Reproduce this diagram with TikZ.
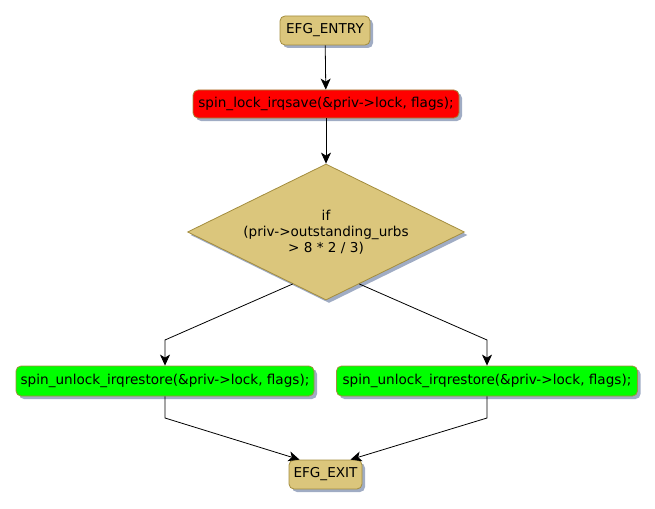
\documentclass[tikz,border=0pt]{standalone}
\usepackage{fontspec}
\setmainfont{DejaVu Sans}
\usetikzlibrary{shapes.geometric,arrows.meta,shadows,calc}
\definecolor{tanfill}{RGB}{219,198,124}
\definecolor{tanline}{RGB}{163,141,62}
\definecolor{shadowblue}{RGB}{160,172,196}
\begin{document}
\begin{tikzpicture}[x=1pt,y=-1pt,
    font=\fontsize{13.6}{16}\selectfont,
    shade box/.style={drop shadow={shadow xshift=3pt,shadow yshift=-3pt,fill=shadowblue,opacity=1}},
    actbox/.style={draw=tanline,line width=0.8pt,rounded corners=5pt,inner sep=0pt,minimum height=29pt,shade box},
    testbox/.style={diamond,draw=tanline,line width=0.8pt,fill=tanfill,inner sep=0pt,shape aspect=2.3,minimum width=277pt,minimum height=136pt,align=center,shade box},
    flow/.style={draw=black,line width=0.8pt,-{Stealth[length=11pt,width=10pt,inset=3pt]}}]

\def\BOXCOLOR{tanfill}
\def\LOCKCOLOR{red}
\def\UNLOCKCOLOR{green}
	\useasboundingbox (0,0) rectangle (655,508);
	\node[actbox,fill=\BOXCOLOR,minimum width=90pt] (entry) at (325,30.5) {EFG\_ENTRY};
	\node[actbox,fill=\LOCKCOLOR,minimum width=266pt,minimum height=28pt] (lock) at (326,104) {spin\_lock\_irqsave(\&priv->lock, flags);};
	\node[testbox] (test) at (326,232) {if\\(priv->outstanding\_urbs\\> 8 * 2 / 3)};
	\node[actbox,fill=\UNLOCKCOLOR,minimum width=298pt,minimum height=30pt] (unlockA) at (165,381) {spin\_unlock\_irqrestore(\&priv->lock, flags);};
	\node[actbox,fill=\UNLOCKCOLOR,minimum width=301pt,minimum height=30pt] (unlockB) at (487,381) {spin\_unlock\_irqrestore(\&priv->lock, flags);};
	\node[actbox,fill=\BOXCOLOR,minimum width=73pt] (exit) at (325.5,474.5) {EFG\_EXIT};

	\coordinate (testL) at ($(test.south)!0.24!(test.west)$);
	\coordinate (testR) at ($(test.south)!0.24!(test.east)$);
	\coordinate (bendA) at (unlockA.north |- 0,340);
	\coordinate (bendB) at (unlockB.north |- 0,340);
	\coordinate (joinA) at (unlockA.south |- 0,418);
	\coordinate (joinB) at (unlockB.south |- 0,418);

	\draw[flow] (entry) -- (lock);
	\draw[flow] (lock) -- (test);
	\draw[flow] (testL) -- (bendA) -- (unlockA);
	\draw[flow] (testR) -- (bendB) -- (unlockB);
	\draw[flow] (unlockA) -- (joinA) -- ([xshift=-26pt]exit.north);
	\draw[flow] (unlockB) -- (joinB) -- ([xshift=25pt]exit.north);

\end{tikzpicture}
\end{document}
